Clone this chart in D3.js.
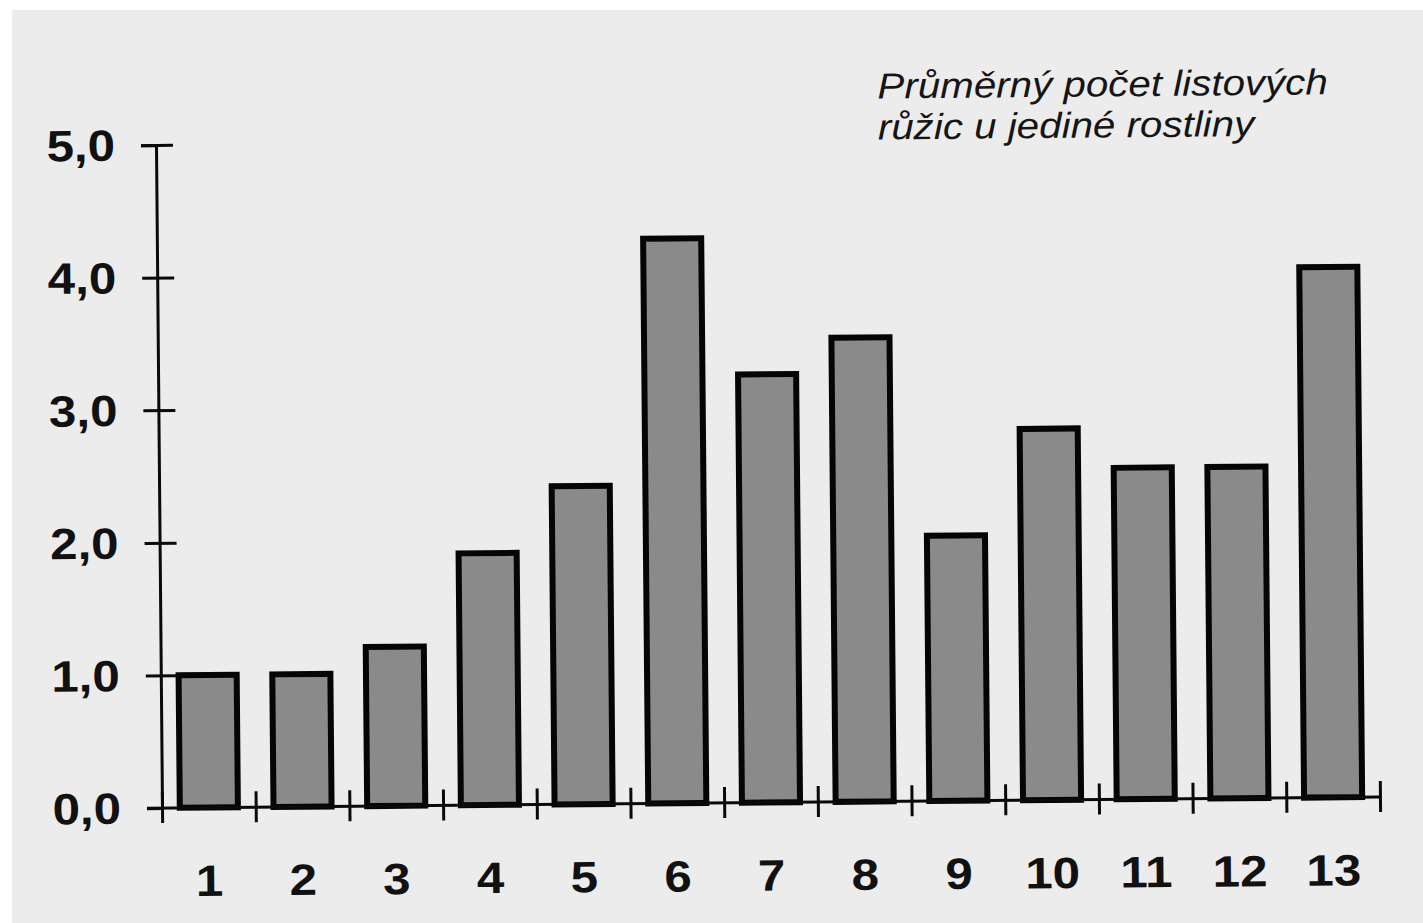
<!DOCTYPE html>
<html>
<head>
<meta charset="utf-8">
<script src="https://cdn.jsdelivr.net/npm/d3@7"></script>
<style>
  html, body { margin: 0; padding: 0; background: #ffffff; }
  svg { display: block; }
  .tick-label { font-family: "Liberation Sans", Arial, sans-serif; font-weight: bold; font-size: 44px; fill: #111; }
  .title { font-family: "Liberation Sans", Arial, sans-serif; font-style: italic; font-size: 36px; fill: #151515; }
</style>
</head>
<body>
<div id="chart"></div>
<script>
const categories = ["1", "2", "3", "4", "5", "6", "7", "8", "9", "10", "11", "12", "13"];
const values = [1.0, 1.0, 1.2, 1.9, 2.4, 4.26, 3.23, 3.5, 2.0, 2.8, 2.5, 2.5, 4.0];
const yTicks = [0, 1, 2, 3, 4, 5];
const titleLines = ["Průměrný počet listových", "růžic u jediné rostliny"];

const width = 1423;
const height = 923;
// origin of the plot (where the axes meet), the scan is tilted around it
const origin = { x: 162, y: 808 };
const plotRight = 1380;
const plotTop = 145;
const tilt = -0.52;
// the scan is a bit stretched sideways, so the lettering is too
const stretch = 1.12;

const svg = d3.select("#chart").append("svg")
  .attr("width", width)
  .attr("height", height);

// scanned page: grey paper with a thin white strip at top and left
svg.append("rect")
  .attr("x", 12).attr("y", 10)
  .attr("width", width - 12).attr("height", height - 10)
  .attr("fill", "#ececec");

const g = svg.append("g")
  .attr("transform", `rotate(${tilt},${origin.x},${origin.y})`);

const x = d3.scaleBand()
  .domain(categories)
  .range([origin.x, plotRight])
  .paddingInner(0.38)
  .paddingOuter(0.19);

const edges = d3.scaleLinear()
  .domain([0, categories.length])
  .range([origin.x, plotRight]);

const y = d3.scaleLinear()
  .domain([0, 5])
  .range([origin.y, plotTop]);

// widen a text around its own anchor point
function widen(sel) {
  sel.each(function () {
    const t = d3.select(this);
    const tx = +t.attr("x") || 0;
    t.attr("transform", `translate(${tx},0) scale(${stretch},1) translate(${-tx},0)`);
  });
}

// bars
g.append("g")
  .selectAll("rect")
  .data(values)
  .join("rect")
  .attr("x", (d, i) => x(categories[i]))
  .attr("y", (d) => y(d))
  .attr("width", x.bandwidth())
  .attr("height", (d) => y(0) - y(d))
  .attr("fill", "#8a8a8a")
  .attr("stroke", "#050505")
  .attr("stroke-width", 6);

// y axis
const axisY = g.append("g")
  .attr("transform", `translate(${origin.x},0)`)
  .call(
    d3.axisLeft(y)
      .tickValues(yTicks)
      .tickSizeOuter(0)
      .tickSize(15)
      .tickPadding(26)
      .tickFormat((d) => d3.format(".1f")(d).replace(".", ","))
  );
axisY.select(".domain").attr("stroke", "#0a0a0a").attr("stroke-width", 3);
axisY.selectAll(".tick line")
  .attr("x1", 17)
  .attr("x2", -15)
  .attr("stroke", "#0a0a0a")
  .attr("stroke-width", 3);
axisY.selectAll(".tick text")
  .attr("class", "tick-label")
  .attr("dy", "0.34em")
  .call(widen);
// the zero tick is drawn by the x axis
axisY.selectAll(".tick").filter((d) => d === 0).select("line").remove();

// x axis: ticks on category edges
const axisX = g.append("g")
  .attr("transform", `translate(0,${origin.y})`)
  .call(
    d3.axisBottom(edges)
      .tickValues(d3.range(categories.length + 1))
      .tickSizeOuter(0)
      .tickFormat("")
  );
axisX.select(".domain").remove();
axisX.append("line")
  .attr("x1", origin.x - 15)
  .attr("x2", plotRight)
  .attr("stroke", "#0a0a0a")
  .attr("stroke-width", 3);
axisX.selectAll(".tick line")
  .attr("y1", -16)
  .attr("y2", 15)
  .attr("stroke", "#0a0a0a")
  .attr("stroke-width", 3);

// category labels
const labelAxis = g.append("g")
  .attr("transform", `translate(0,${origin.y})`)
  .call(d3.axisBottom(x).tickSize(0).tickPadding(57));
labelAxis.select(".domain").remove();
labelAxis.selectAll(".tick text")
  .attr("class", "tick-label")
  .attr("dy", "0.71em")
  .call(widen);

// caption
const titleX = 884;
g.append("g")
  .attr("transform", `translate(${titleX},0) scale(${stretch},1) translate(${-titleX},0)`)
  .append("text")
  .attr("class", "title")
  .attr("x", titleX)
  .attr("y", 105)
  .selectAll("tspan")
  .data(titleLines)
  .join("tspan")
  .attr("x", titleX)
  .attr("dy", (d, i) => (i === 0 ? 0 : 41))
  .text((d) => d);
</script>
</body>
</html>
